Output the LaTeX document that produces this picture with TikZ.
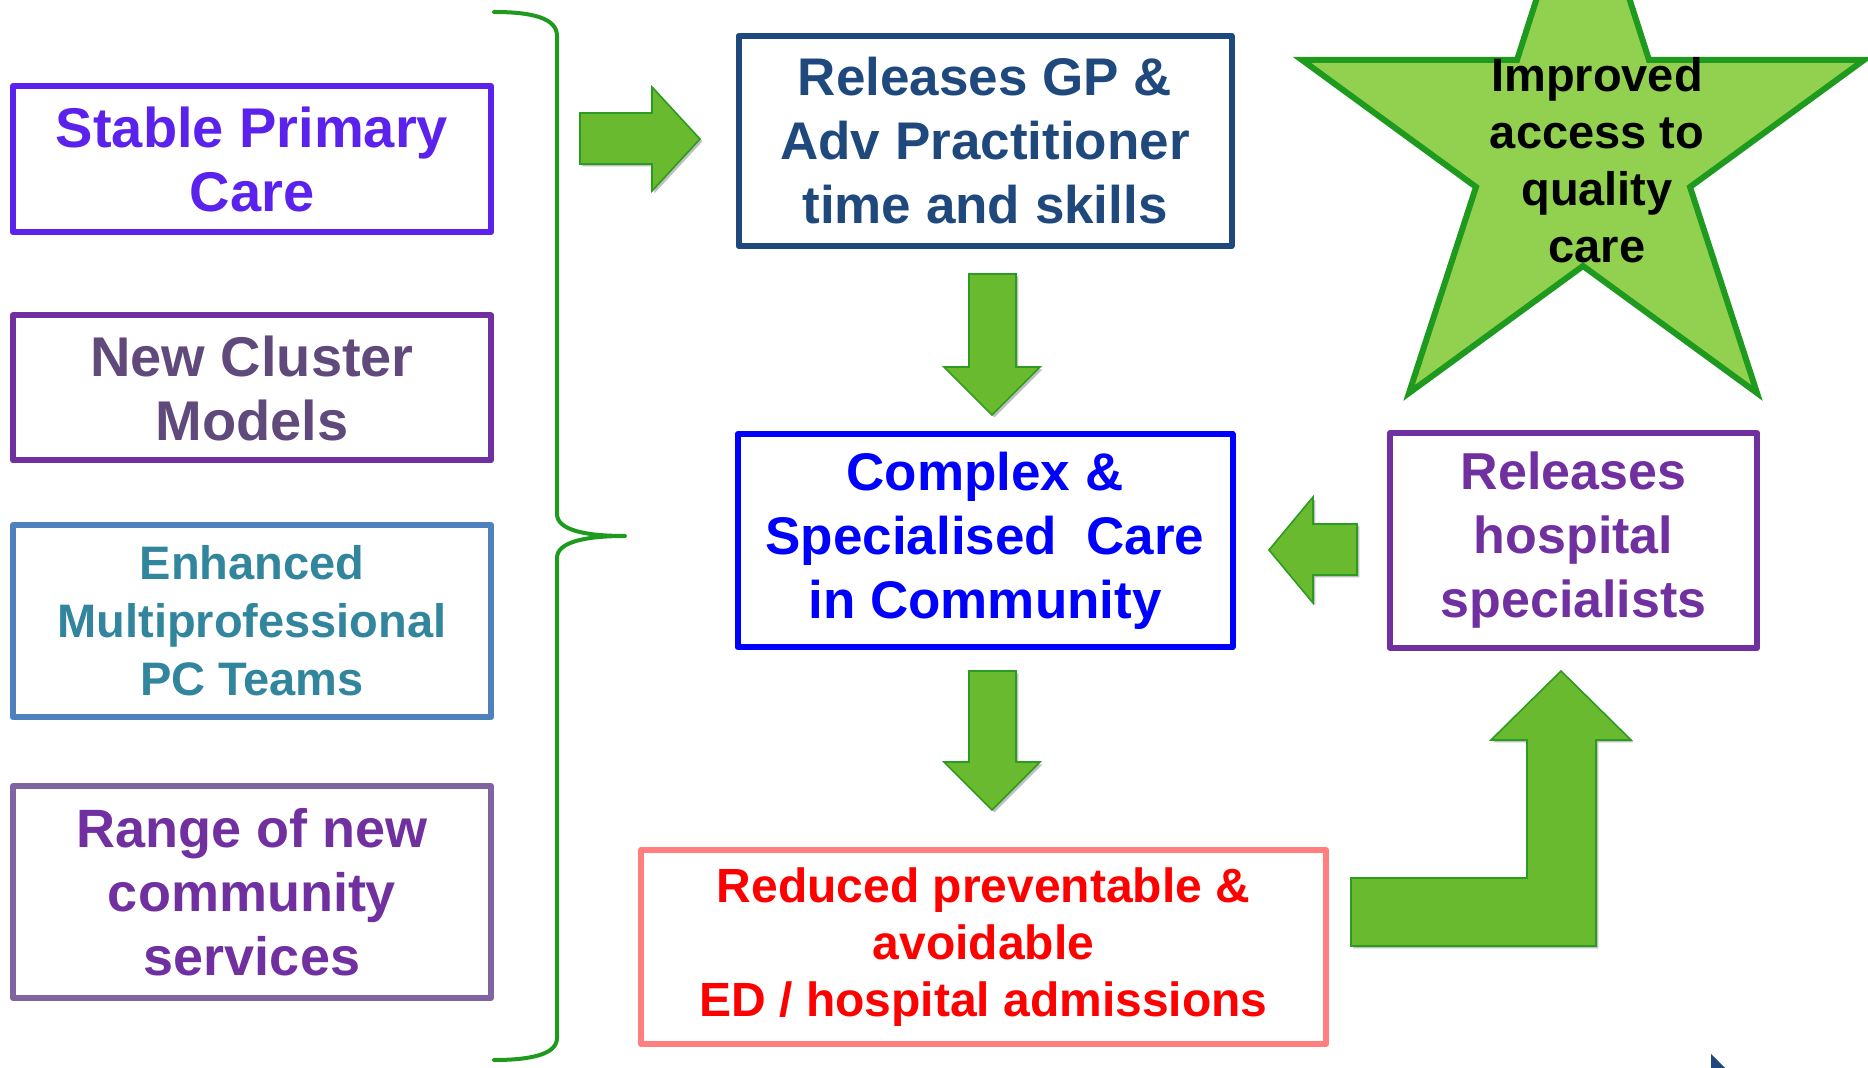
\documentclass[tikz,border=0pt]{standalone}
\usepackage{fontspec}
\setmainfont{Liberation Sans}
\usetikzlibrary{shadows}

\definecolor{stablecol}{HTML}{5B22EE}
\definecolor{clusterline}{HTML}{7030A0}
\definecolor{clustertext}{HTML}{604A7B}
\definecolor{teamline}{HTML}{4F81BD}
\definecolor{teamtext}{HTML}{31859C}
\definecolor{rangeline}{HTML}{8064A2}
\definecolor{rangetext}{HTML}{7030A0}
\definecolor{gpcol}{HTML}{1F497D}
\definecolor{complexcol}{HTML}{0000FF}
\definecolor{hospcol}{HTML}{7030A0}
\definecolor{reducedline}{HTML}{FF7F7F}
\definecolor{reducedtext}{HTML}{FF0000}
\definecolor{bracecol}{HTML}{1E9A1E}
\definecolor{arrowfill}{HTML}{6ABA2F}
\definecolor{arrowline}{HTML}{2C9B22}
\definecolor{starfill}{HTML}{92D050}
\definecolor{starline}{HTML}{1E9A1E}

\tikzset{
  box/.style={draw, line width=3pt, align=center, inner sep=0pt},
  blockarrow/.style={fill=arrowfill, draw=arrowline, line width=0.8pt, line join=miter,
    drop shadow={shadow xshift=1.2pt, shadow yshift=-1.2pt, opacity=0.25, fill=black}}
}

\begin{document}
\begin{tikzpicture}[line cap=round,line join=round,x=0.5pt,y=-0.5pt]
            \useasboundingbox (0,0) rectangle (1868,1068);
            \clip (0,0) rectangle (1868,1068);
            % left column
            \node[box, draw=stablecol, text=stablecol, minimum width=239pt, minimum height=73pt,
                  font=\bfseries\fontsize{28}{32}\selectfont] (stable) at (252,159) {Stable Primary\\Care};
            \node[box, draw=clusterline, text=clustertext, minimum width=239pt, minimum height=72.5pt,
                  font=\bfseries\fontsize{28}{32}\selectfont] (cluster) at (252,388) {New Cluster\\Models};
            \node[box, draw=teamline, text=teamtext, minimum width=239pt, minimum height=96pt,
                  font=\bfseries\fontsize{23.5}{29}\selectfont] (teams) at (252,621) {Enhanced\\Multiprofessional\\PC Teams};
            \node[box, draw=rangeline, text=rangetext, minimum width=239pt, minimum height=106pt,
                  font=\bfseries\fontsize{27}{32}\selectfont] (range) at (252,892) {Range of new\\community\\services};
            % brace
            \draw [bracecol, line width=2pt] (494,12) .. controls (532,12) and (557,18) .. (557,36) -- (557,514)
                  .. controls (557,530) and (585,536) .. (625,536) .. controls (585,536) and (557,542) .. (557,558)
                  -- (557,1038) .. controls (557,1054) and (532,1060) .. (494,1060);
            % middle column
            \node[box, draw=gpcol, text=gpcol, minimum width=246.5pt, minimum height=105pt,
                  font=\bfseries\fontsize{26.5}{32}\selectfont] (gp) at (985,141) {Releases GP \&\\Adv Practitioner\\time and skills};
            \node[box, draw=complexcol, text=complexcol, minimum width=247.5pt, minimum height=106.5pt,
                  font=\bfseries\fontsize{26.5}{32}\selectfont] (complex) at (985,540.5) {Complex \&\\Specialised\ \ Care\\in Community};
            \node[box, draw=reducedline, text=reducedtext, minimum width=342.5pt, minimum height=97pt,
                  font=\bfseries\fontsize{24}{28.5}\selectfont] (reduced) at (983.5,947) {Reduced preventable \&\\avoidable\\ED / hospital admissions};
            \node[box, draw=hospcol, text=hospcol, minimum width=183.5pt, minimum height=107.5pt,
                  font=\bfseries\fontsize{26}{32}\selectfont] (hosp) at (1573.5,540.5) {Releases\\hospital\\specialists};
            % block arrows
            \draw [blockarrow] (580,113) -- (652,113) -- (652,87) -- (700,139) -- (652,191) -- (652,164) -- (580,164) -- cycle;
            \draw [blockarrow] (969,274) -- (1016,274) -- (1016,367) -- (1040,367) -- (992,415) -- (944,367) -- (969,367) -- cycle;
            \draw [blockarrow] (969,671) -- (1016,671) -- (1016,762) -- (1040,762) -- (992,810) -- (944,762) -- (969,762) -- cycle;
            \draw [blockarrow] (1357,524) -- (1313,524) -- (1313,497) -- (1269,550) -- (1313,603) -- (1313,575) -- (1357,575) -- cycle;
            \draw [blockarrow] (1351,878) -- (1527,878) -- (1527,740) -- (1491,740) -- (1561,671) -- (1631,740)
                  -- (1596,740) -- (1596,946) -- (1351,946) -- cycle;
            % star
            \draw [fill=starfill, draw=starline, line width=3pt, line join=miter] (1583,-146) -- (1649,60) -- (1864,60)
                  -- (1690,187) -- (1757,393) -- (1583,266) -- (1409,393) -- (1476,187) -- (1302,60) -- (1517,60) -- cycle;
            \node[align=center, inner sep=0pt, font=\bfseries\fontsize{23.5}{28.5}\selectfont] (access) at (1597,160)
                  {Improved\\access to\\quality\\care};
            \fill [gpcol] (1711,1054) -- (1711,1068) -- (1725,1068) -- cycle;
        \end{tikzpicture}
\end{document}
